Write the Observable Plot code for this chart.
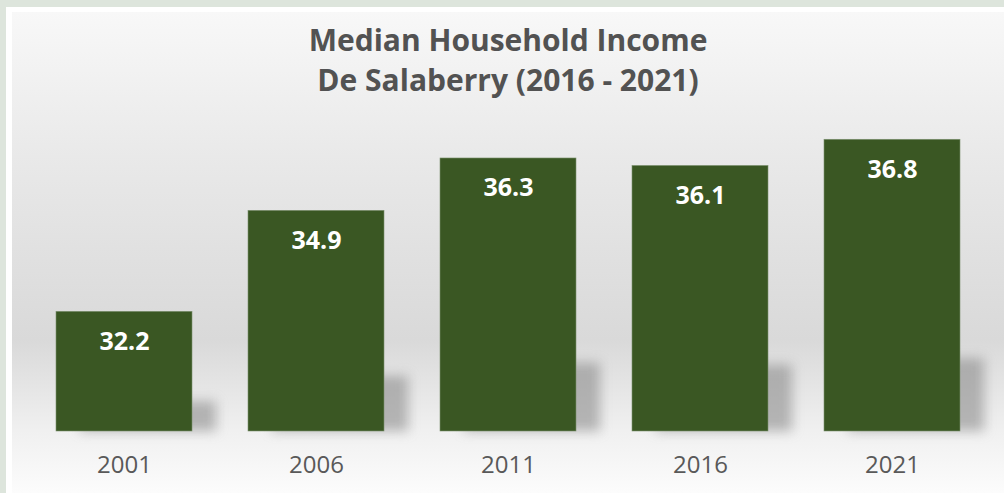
<!DOCTYPE html>
<html>
<head>
<meta charset="utf-8">
<script src="https://cdn.jsdelivr.net/npm/d3@7"></script>
<script src="https://cdn.jsdelivr.net/npm/@observablehq/plot@0.6"></script>
<style>
  html, body { margin: 0; padding: 0; }
  body { width: 1004px; height: 493px; overflow: hidden; position: relative; background: #dde5dc; font-family: "Open Sans", sans-serif; }
  .panel { position: absolute; left: 6px; top: 7px; right: 0; bottom: 0; background: #ffffff; }
  .inner { position: absolute; left: 12px; top: 12px; right: 0; bottom: 0;
    background: linear-gradient(to bottom, #f8f8f8 0%, #e9e9e9 30%, #d9d9d9 68%, #f0f0f0 87%, #fcfcfc 100%); }
  #chart { position: absolute; left: 0; top: 0; }
  .title { position: absolute; left: 12px; right: 0; top: 20px; text-align: center; font-family: "Open Sans", sans-serif;
    font-weight: 700; font-size: 30px; line-height: 40px; color: #525252; }
</style>
</head>
<body>
<div class="panel"></div>
<div class="inner"></div>
<div id="chart"></div>
<div class="title">Median Household Income<br>De Salaberry (2016 - 2021)</div>
<script>
const years = ["2001", "2006", "2011", "2016", "2021"];
const incomes = [32.2, 34.9, 36.3, 36.1, 36.8];
const baseValue = 29;

const data = years.map((year, i) => ({ year, income: incomes[i] }));

const chart = Plot.plot({
  width: 1004,
  height: 493,
  marginLeft: 26.75,
  marginRight: 14.75,
  marginTop: 94.4,
  marginBottom: 62,
  style: { background: "transparent", fontFamily: "Open Sans, sans-serif", overflow: "visible" },
  x: { domain: years, paddingInner: 0.29, paddingOuter: 0.145, label: null },
  y: { domain: [baseValue, 38], axis: null },
  marks: [
    Plot.barY(data, { x: "year", y1: baseValue, y2: d => baseValue + (d.income - baseValue) * 0.25, fill: "#7a7a7a", fillOpacity: 0.5, dx: 24 }),
    Plot.barY(data, { x: "year", y1: baseValue, y2: "income", fill: "#3a5723", stroke: "#7d9270", strokeWidth: 0.6 }),
    Plot.text(data, { x: "year", y: "income", text: d => d.income.toFixed(1), dy: 30, fill: "white", fontSize: 25, fontWeight: "bold" }),
    Plot.axisX({ tickSize: 0, tickPadding: 24, fontSize: 24, color: "#595959", label: null })
  ]
});
document.getElementById("chart").append(chart);
const bars = chart.querySelectorAll('g[aria-label="bar"]');
if (bars.length) bars[0].style.filter = "blur(6px)";
</script>
</body>
</html>
